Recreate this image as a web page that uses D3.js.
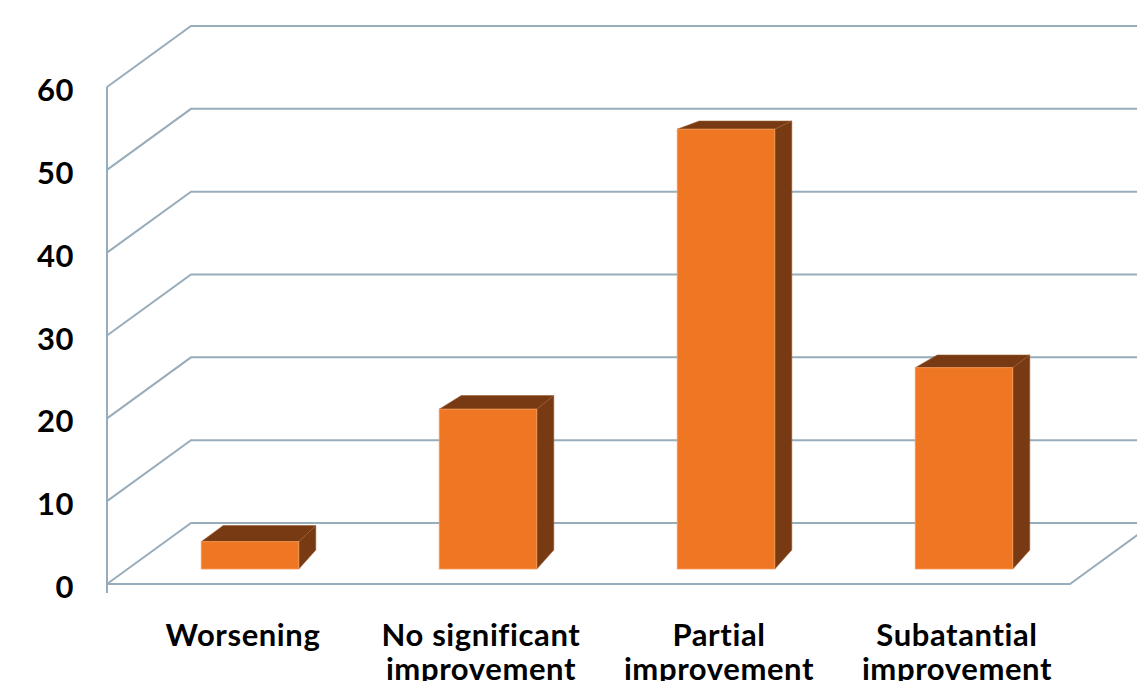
<!DOCTYPE html>
<html>
<head>
<meta charset="utf-8">
<script src="https://cdn.jsdelivr.net/npm/d3@7"></script>
<style>
  html, body { margin: 0; padding: 0; background: #fff; overflow: hidden; }
  text { font-family: Lato, "Open Sans", sans-serif; font-weight: 700; fill: #000; }
</style>
</head>
<body>
<div id="viz"></div>
<script>
// data
var categories = ['Worsening', 'No significant improvement', 'Partial improvement', 'Subatantial improvement'];
var labelLines = [['Worsening'], ['No significant', 'improvement'], ['Partial', 'improvement'], ['Subatantial', 'improvement']];
var values = [3.3, 19.3, 53.1, 24.3];
var ticks = [0, 10, 20, 30, 40, 50, 60];

var width = 1137;
var height = 681;

var gridColor = '#98adbc';
var frontColor = '#ef7723';
var darkColor = '#773a12';

// wall depth offset
var wallDx = 84, wallDy = -61;
// bar front plane offset from the front edge
var barDx = 19, barDy = -15;

var svg = d3.select('#viz')
    .append('svg')
    .attr('width', width)
    .attr('height', height);

var x = d3.scaleBand()
    .domain(categories)
    .range([112, 1064])
    .paddingInner(0.59)
    .paddingOuter(0.295);

var y = d3.scaleLinear()
    .domain([0, 60])
    .range([584, 87]);

// perspective: top faces get thinner the higher they are
var topDepth = d3.scaleLinear().domain([0, 60]).range([-16.6, -7]);

var grid = svg.append('g')
    .attr('fill', 'none')
    .attr('stroke', gridColor)
    .attr('stroke-width', 2);

// gridlines: side wall diagonal + back wall horizontal
ticks.forEach(function (t) {
    var yy = y(t);
    grid.append('path')
        .attr('d', 'M107,' + yy + 'L' + (107 + wallDx) + ',' + (yy + wallDy) + 'L' + width + ',' + (yy + wallDy));
});

// vertical axis
grid.append('line')
    .attr('x1', 107).attr('x2', 107)
    .attr('y1', y(60)).attr('y2', y(0) + 9);

// floor front edge and right side
grid.append('path')
    .attr('d', 'M107,' + y(0) + 'L1070,' + y(0) + 'L' + (1070 + wallDx) + ',' + (y(0) + wallDy));

// y labels
svg.append('g').selectAll('text')
    .data(ticks)
    .enter().append('text')
    .attr('x', 74)
    .attr('y', function (d) { return y(d) + 2; })
    .attr('text-anchor', 'end')
    .attr('dominant-baseline', 'central')
    .style('font-size', '31px')
    .style('letter-spacing', '0.5px')
    .text(function (d) { return d; });

// bars
var bars = svg.append('g').selectAll('g')
    .data(values)
    .enter().append('g');

function barGeom(d, i) {
    var x0 = x(categories[i]) + barDx;
    var x1 = x0 + x.bandwidth();
    var y0 = y(0) + barDy;
    var yt = y(d) + barDy;
    return { x0: x0, x1: x1, y0: y0, yt: yt, td: topDepth(d) };
}

// top face
bars.append('path')
    .attr('fill', darkColor)
    .attr('stroke', '#9a5a30')
    .attr('stroke-width', 0.6)
    .attr('d', function (d, i) {
        var g = barGeom(d, i);
        return 'M' + g.x0 + ',' + g.yt + 'L' + (g.x0 + 22) + ',' + (g.yt + g.td) +
            'L' + (g.x1 + 17) + ',' + (g.yt + g.td) + 'L' + g.x1 + ',' + g.yt + 'Z';
    });

// side face
bars.append('path')
    .attr('fill', darkColor)
    .attr('stroke', '#9a5a30')
    .attr('stroke-width', 0.6)
    .attr('d', function (d, i) {
        var g = barGeom(d, i);
        return 'M' + g.x1 + ',' + g.yt + 'L' + (g.x1 + 17) + ',' + (g.yt + g.td) +
            'L' + (g.x1 + 17) + ',' + (g.y0 - 19) + 'L' + g.x1 + ',' + g.y0 + 'Z';
    });

// front face
bars.append('rect')
    .attr('fill', frontColor)
    .attr('stroke', '#f59a5a')
    .attr('stroke-width', 0.8)
    .attr('x', function (d, i) { return barGeom(d, i).x0; })
    .attr('y', function (d, i) { return barGeom(d, i).yt; })
    .attr('width', x.bandwidth())
    .attr('height', function (d, i) { var g = barGeom(d, i); return g.y0 - g.yt; });

// x labels
var xl = svg.append('g').selectAll('text')
    .data(categories)
    .enter().append('text')
    .attr('text-anchor', 'middle')
    .style('font-size', '31px')
    .style('letter-spacing', '0.6px')
    .attr('x', function (d) { return x(d) + x.bandwidth() / 2 + 12; })
    .attr('y', 646);

xl.each(function (d, i) {
    var t = d3.select(this);
    labelLines[i].forEach(function (line, j) {
        t.append('tspan')
            .attr('x', t.attr('x'))
            .attr('dy', j === 0 ? 0 : 34)
            .text(line);
    });
});
</script>
</body>
</html>
